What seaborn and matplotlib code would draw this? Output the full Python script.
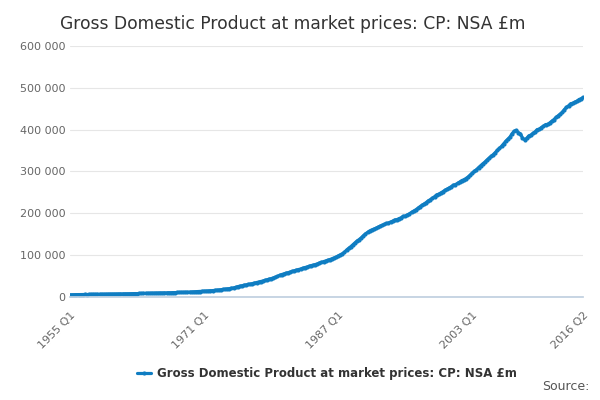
import matplotlib
matplotlib.use("Agg")
import matplotlib.pyplot as plt
from matplotlib.ticker import FuncFormatter
import seaborn as sns
import pandas as pd

# quarterly values, £bn, 1955 Q1 .. 2016 Q2
gdp_k = [
    4.8, 5.0, 5.0, 5.2, 5.2, 5.4, 5.4, 5.6, 5.5, 5.7, 5.7, 5.9, 5.8, 6.0, 6.0, 6.2,
    6.1, 6.3, 6.3, 6.5, 6.5, 6.7, 6.7, 6.9, 6.9, 7.1, 7.1, 7.3, 7.3, 7.5, 7.5, 7.7,
    7.6, 7.9, 7.9, 8.2, 8.2, 8.5, 8.5, 8.8, 8.7, 9.0, 9.0, 9.3, 9.2, 9.5, 9.5, 9.8,
    9.7, 10.0, 10.0, 10.3, 10.4, 10.7, 10.7, 11.0, 11.0, 11.3, 11.4, 11.8, 12.0, 12.3, 12.6, 13.1,
    13.4, 13.8, 14.1, 14.6, 14.8, 15.3, 15.7, 16.3, 17.0, 17.7, 18.2, 19.0, 19.5, 20.6, 21.4, 22.6,
    24.2, 25.5, 26.4, 27.8, 28.5, 29.6, 30.4, 31.6, 32.8, 34.0, 35.0, 36.3, 37.8, 39.3, 40.6, 42.3,
    43.5, 45.2, 46.8, 48.6, 51.5, 53.2, 54.8, 56.5, 57.6, 59.3, 60.8, 62.4, 63.8, 65.2, 66.5, 68.4,
    69.8, 71.2, 72.6, 74.6, 75.6, 77.0, 78.6, 80.8, 82.4, 84.2, 85.8, 87.6, 89.0, 91.0, 92.8, 95.2,
    98.0, 100.5, 103.2, 106.5, 112.0, 116.0, 120.0, 124.5, 129.0, 133.5, 137.0, 141.0,
    146.0, 150.5, 154.0, 157.5, 160.0, 162.0, 164.0, 166.5, 169.0, 171.0, 173.0, 175.5,
    176.5, 179.0, 181.0, 184.0, 184.5, 187.0, 189.0, 192.5, 193.0, 196.0, 198.5, 202.0,
    205.0, 208.0, 211.5, 215.5, 219.0, 222.0, 225.5, 229.5, 232.5, 236.0, 239.5, 244.0,
    245.5, 248.5, 251.5, 255.0, 257.5, 260.5, 263.5, 267.0, 268.5, 271.5, 274.5, 278.0,
    280.0, 283.0, 286.5, 291.0, 296.0, 300.0, 304.0, 309.0, 313.5, 318.0, 322.0, 327.0,
    331.5, 336.0, 340.0, 345.0, 350.5, 355.0, 360.0, 366.0, 372.0, 377.0, 382.0, 390.0,
    396.0, 398.0, 393.0, 390.0, 380.0, 376.0, 379.0, 385.0, 387.0, 391.0, 394.5, 400.0,
    401.0, 405.0, 408.0, 412.0, 412.5, 416.0, 420.0, 424.0, 429.0, 433.0, 437.0, 441.0,
    448.0, 453.0, 457.0, 462.0, 463.0, 466.0, 468.0, 472.0, 474.0, 477.0,
]
tick_labels = ["1955 Q1", "1971 Q1", "1987 Q1", "2003 Q1", "2016 Q2"]
tick_pos = [0, 64, 128, 192, 245]
series_name = "Gross Domestic Product at market prices: CP: NSA £m"

df = pd.DataFrame({"q": range(len(gdp_k)), "v": [v * 1000 for v in gdp_k]})

sns.set_theme(style="white")
plt.rcParams["font.family"] = ["DejaVu Sans"]
fig = plt.figure(figsize=(6, 4), dpi=100)
ax = fig.add_axes([0.117, 0.258, 0.855, 0.627])

sns.lineplot(data=df, x="q", y="v", ax=ax, color="#0f7dc2", lw=2.3,
             marker="o", markersize=3, markeredgewidth=0, label=series_name)

ax.set_xlim(0, 245)
ax.set_ylim(0, 600000)
ax.set_yticks(range(0, 600001, 100000))
ax.yaxis.set_major_formatter(FuncFormatter(lambda v, p: f"{int(v):,}".replace(",", " ")))
ax.grid(axis="y", color="#e6e6e6", lw=0.8)
ax.set_xticks(tick_pos)
ax.set_xticklabels(tick_labels, rotation=45, ha="right", rotation_mode="anchor")
ax.set_xticks(list(range(0, 246, 16)), minor=True)
ax.tick_params(axis="x", which="both", length=6, color="#c0d0e0", colors="#666666", labelsize=8)
ax.tick_params(axis="x", which="minor", length=6, color="#c0d0e0")
ax.tick_params(axis="y", length=0, colors="#666666", labelsize=8)
ax.set_xlabel("")
ax.set_ylabel("")
for s in ["top", "right", "left"]:
    ax.spines[s].set_visible(False)
ax.spines["bottom"].set_color("#c0d0e0")

fig.text(0.1, 0.94, "Gross Domestic Product at market prices: CP: NSA £m",
         fontsize=12.3, color="#333333", va="center")
leg = ax.legend(loc="center", bbox_to_anchor=(0.5, -0.305), frameon=False,
                prop={"weight": "bold", "size": 8.5}, handlelength=1.2, handletextpad=0.5)
for t in leg.get_texts():
    t.set_color("#333333")
fig.text(0.982, 0.025, "Source:", ha="right", fontsize=9, color="#555555")

fig.savefig("out.png", dpi=100)
